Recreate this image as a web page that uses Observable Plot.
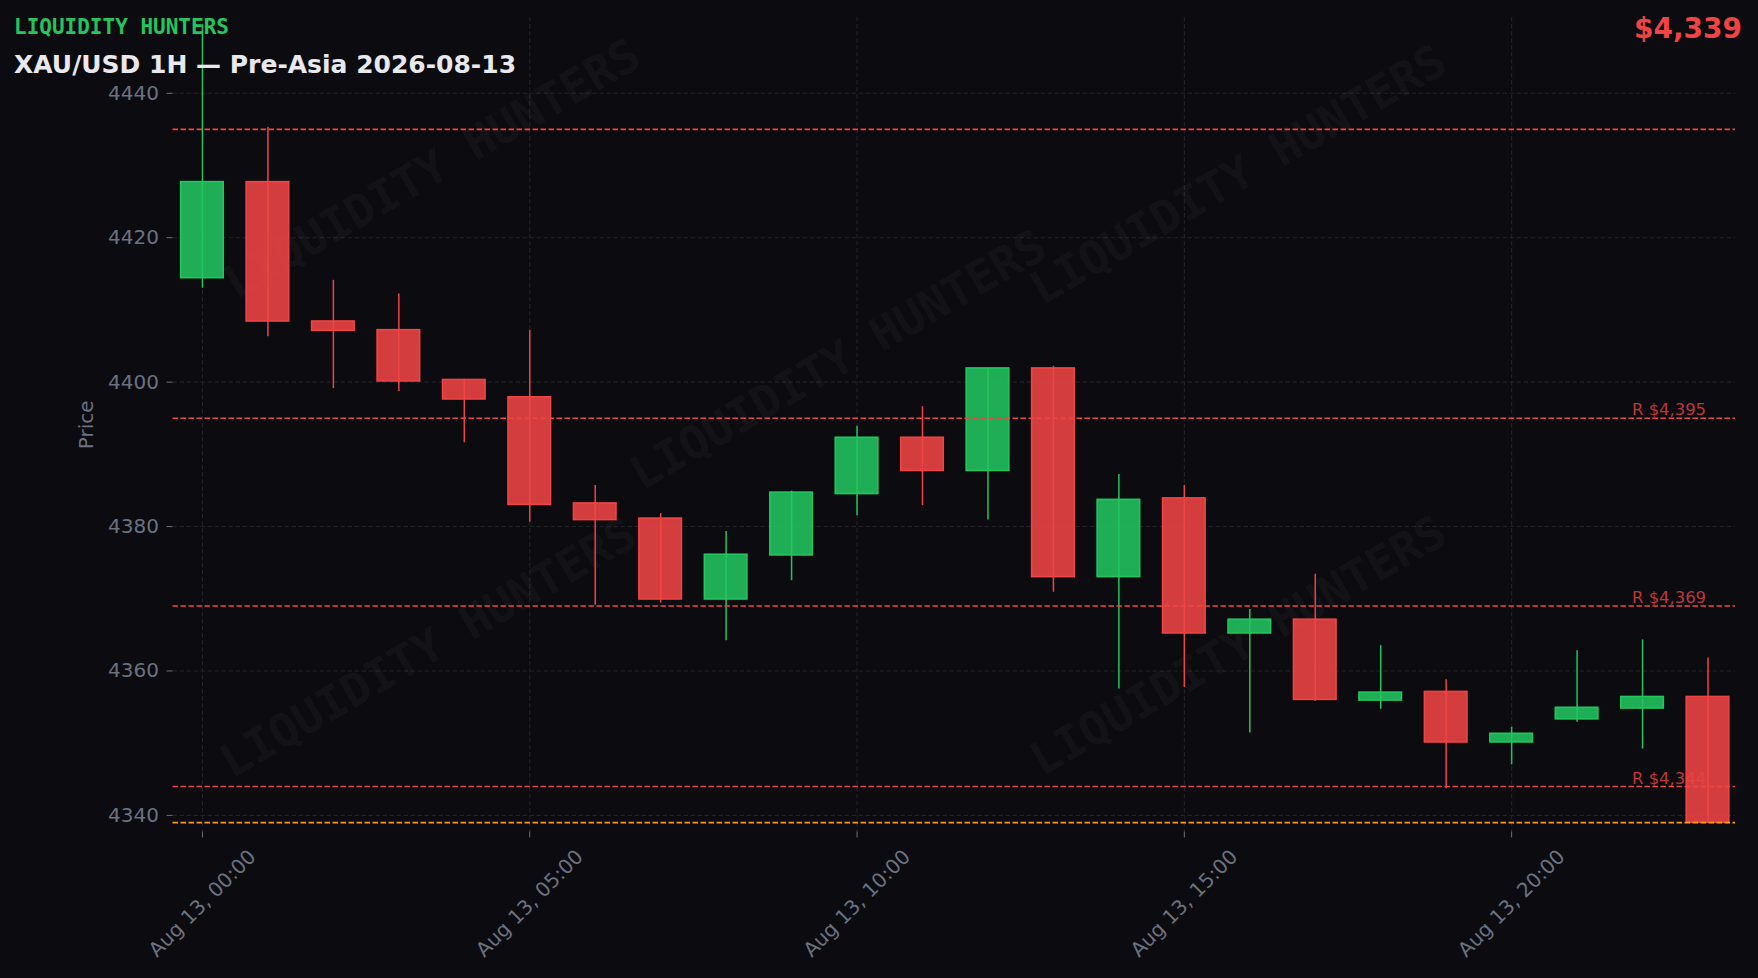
<!DOCTYPE html>
<html><head><meta charset="utf-8">
<script src="https://cdn.jsdelivr.net/npm/d3@7"></script>
<script src="https://cdn.jsdelivr.net/npm/@observablehq/plot@0.6"></script>
<style>
html,body{margin:0;padding:0;background:#0b0b10;}
#wrap{position:relative;width:1758px;height:978px;overflow:hidden;background:#0b0b10;}
#wrap svg{position:absolute;left:0;top:0;}
</style></head><body>
<div id="wrap"></div>
<script>
// ---- data ----
const hours = [0,1,2,3,4,5,6,7,8,9,10,11,12,13,14,15,16,17,18,19,20,21,22,23];
const open  = [4414.4,4427.7,4408.4,4407.2,4400.3,4397.9,4383.2,4381.1,4369.9,4376.0,4384.5,4392.3,4387.7,4401.9,4373.0,4383.9,4365.2,4367.1,4355.9,4357.1,4350.1,4353.3,4354.8,4356.4];
const high  = [4449.5,4435.3,4414.1,4412.2,4400.4,4407.2,4385.7,4381.8,4379.3,4384.9,4393.9,4396.6,4401.9,4402.2,4387.2,4385.7,4368.5,4373.4,4363.5,4358.8,4352.2,4362.8,4364.3,4361.8];
const low   = [4413.0,4406.3,4399.1,4398.7,4391.6,4380.6,4369.1,4369.4,4364.2,4372.5,4381.5,4382.9,4380.9,4370.9,4357.5,4357.7,4351.4,4355.8,4354.7,4343.7,4347.0,4352.9,4349.2,4339.0];
const close = [4427.7,4408.4,4407.1,4400.1,4397.6,4383.0,4380.9,4369.9,4376.1,4384.7,4392.3,4387.7,4401.9,4373.0,4383.7,4365.2,4367.1,4356.0,4357.0,4350.1,4351.3,4354.9,4356.4,4339.0];
const resistance = [4435, 4395, 4369, 4344];
const resistanceLabeled = [4395, 4369, 4344];
const currentPrice = 4339;
const yTicks = [4340, 4360, 4380, 4400, 4420, 4440];
const xTickHours = [0, 5, 10, 15, 20];
const xTickLabels = ["Aug 13, 00:00","Aug 13, 05:00","Aug 13, 10:00","Aug 13, 15:00","Aug 13, 20:00"];
const brand = "LIQUIDITY HUNTERS";
const title = "XAU/USD 1H — Pre-Asia 2026-08-13";

// ---- style ----
const GREEN = "#22c55e", RED = "#ef4444", ORANGE = "#f59e0b", GRID = "#22222b", AXIS = "#6b7280", BG = "#0b0b10";
const W = 1758, H = 978;
const mL = 172.5, mR = 23, mT = 17, mB = 146.5;
const t0 = Date.UTC(2026, 7, 13, 0, 0);
const toDate = h => new Date(t0 + h * 3600e3);
const halfBody = 0.325;

const candles = hours.map((h, i) => ({
  t: toDate(h), t1: toDate(h - halfBody), t2: toDate(h + halfBody),
  o: open[i], h: high[i], l: low[i], c: close[i],
  col: close[i] >= open[i] ? GREEN : RED
}));
const xTicks = xTickHours.map((h, i) => ({t: toDate(h), label: xTickLabels[i]}));

const wmLayout = [[259.5,152],[665.5,343],[255.5,631],[1065.5,158],[1065.5,629]];

const chart = Plot.plot({
  width: W, height: H,
  marginLeft: mL, marginRight: mR, marginTop: mT, marginBottom: mB,
  style: {background: BG, fontFamily: "DejaVu Sans", overflow: "visible"},
  x: {type: "utc", domain: [toDate(-0.45), toDate(23.42)]},
  y: {domain: [4337.7, 4450.5]},
  color: {type: "identity"},
  marks: [
    Plot.ruleY(yTicks, {stroke: GRID, strokeWidth: 1.1, strokeDasharray: "4.5,2.5"}),
    Plot.ruleX(xTicks, {x: "t", stroke: GRID, strokeWidth: 1.1, strokeDasharray: "4.5,2.5"}),
    ...wmLayout.map(([dx, dy]) => Plot.text([brand], {
      frameAnchor: "top-left", dx, dy, rotate: -30,
      fontFamily: "DejaVu Sans Mono", fontWeight: "bold", fontSize: 46,
      fill: "#ffffff", fillOpacity: 0.05, textAnchor: "middle", lineAnchor: "middle"
    })),
    Plot.ruleX(candles, {x: "t", y1: "l", y2: "h", stroke: "col", strokeWidth: 1.5}),
    Plot.rect(candles, {x1: "t1", x2: "t2", y1: "o", y2: "c", fill: "col", fillOpacity: 0.88, stroke: "col", strokeWidth: 1.6}),
    Plot.ruleY(resistance, {stroke: RED, strokeOpacity: 1, strokeWidth: 1.6, strokeDasharray: "5.5,2.5"}),
    Plot.ruleY([currentPrice], {stroke: ORANGE, strokeWidth: 1.6, strokeDasharray: "5.5,2.5"}),
    Plot.text(resistanceLabeled, {
      x: () => toDate(hours[hours.length - 1]), y: d => d,
      text: d => "R $" + d3.format(",")(d),
      textAnchor: "end", lineAnchor: "bottom", dx: -2, dy: -3,
      fill: RED, fillOpacity: 0.78, fontSize: 16.4
    }),
    Plot.axisY({ticks: yTicks, tickSize: 6, tickPadding: 8, fontSize: 20, color: AXIS, tickFormat: d => String(d), label: null}),
    Plot.axisX({ticks: xTicks.map(d => d.t), tickSize: 6, tickFormat: () => "", color: AXIS, label: null}),
    Plot.text(xTicks, {x: "t", text: "label", frameAnchor: "bottom", dy: 71.5, rotate: -45,
      textAnchor: "middle", lineAnchor: "middle", fontSize: 20, fill: AXIS}),
    Plot.text(["Price"], {frameAnchor: "left", dx: -86.5, rotate: -90, textAnchor: "middle", lineAnchor: "middle", fontSize: 20, fill: AXIS})
  ]
});

const wrap = document.getElementById("wrap");
wrap.appendChild(chart);

// header overlay
const ov = d3.select(wrap).append("svg").attr("width", W).attr("height", H).style("pointer-events", "none");
ov.append("text").attr("x", 14).attr("y", 33.5)
  .attr("font-family", "DejaVu Sans Mono").attr("font-weight", "bold").attr("font-size", 21)
  .attr("fill", GREEN).text(brand);
ov.append("text").attr("x", 14).attr("y", 72.7)
  .attr("font-family", "DejaVu Sans").attr("font-weight", "bold").attr("font-size", 25)
  .attr("fill", "#e8e8ed").text(title);
ov.append("text").attr("x", 1742).attr("y", 37.7).attr("text-anchor", "end")
  .attr("font-family", "DejaVu Sans").attr("font-weight", "bold").attr("font-size", 28)
  .attr("fill", RED).text("$" + d3.format(",")(currentPrice));
</script>
</body></html>
